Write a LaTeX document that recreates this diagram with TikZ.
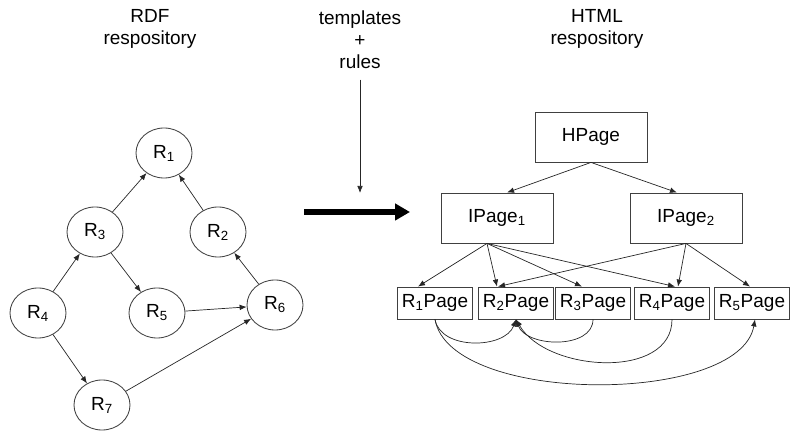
\documentclass[tikz,border=0pt]{standalone}
\usepackage{fontspec}
\setmainfont{Liberation Sans}
\usetikzlibrary{shapes.geometric}
\usetikzlibrary{arrows.meta}

\begin{document}
\begin{tikzpicture}[x=0.025cm,y=0.025cm,font=\fontsize{13.5}{15.5}\selectfont,
  res/.style={ellipse,draw=black!75,line width=0.6pt,minimum width=1.4cm,minimum height=1.25cm,inner sep=0pt},
  page/.style={rectangle,draw=black!75,line width=0.6pt,minimum width=1.875cm,minimum height=0.8cm,inner sep=1pt},
  bigpage/.style={rectangle,draw=black!75,line width=0.6pt,minimum width=2.8cm,minimum height=1.25cm},
  link/.style={-{Latex[length=5pt,width=4pt]},line width=0.5pt,black!85}]
\useasboundingbox (0,0) rectangle (790,-432);

% RDF repository
\node[align=center] (rdf) at (150,-29) {RDF\\respository};
\node[res] (R1) at (164,-153) {R\textsubscript{1}};
\node[res] (R2) at (218,-232) {R\textsubscript{2}};
\node[res] (R3) at (95,-232) {R\textsubscript{3}};
\node[res] (R4) at (38,-313) {R\textsubscript{4}};
\node[res] (R5) at (157,-313) {R\textsubscript{5}};
\node[res] (R6) at (275,-305) {R\textsubscript{6}};
\node[res] (R7) at (102,-405) {R\textsubscript{7}};
\draw[link] (R3) -- (R1);
\draw[link] (R2) -- (R1);
\draw[link] (R4) -- (R3);
\draw[link] (R3) -- (R5);
\draw[link] (R6) -- (R2);
\draw[link] (R5) -- (R6);
\draw[link] (R4) -- (R7);
\draw[link] (R7) -- (R6);

% transformation
\node[align=center] (rules) at (360,-40) {templates\\+\\rules};
\coordinate (apply) at (360,-193);
\draw[link] (rules.south) ++(0,-6) -- (apply);
\coordinate (gen0) at (304,-212);
\coordinate (gen1) at (410,-212);
\draw[line width=3.6pt,-{Triangle[length=0.37cm,width=0.4cm]}] (gen0) -- (gen1);

% HTML repository
\node[align=center] (html) at (597,-29) {HTML\\respository};
\node[bigpage] (HPage) at (591,-137) {HPage};
\node[bigpage] (IPage1) at (497,-218) {IPage\textsubscript{1}};
\node[bigpage] (IPage2) at (686,-218) {IPage\textsubscript{2}};
\node[page] (R1Page) at (435,-303) {R\textsubscript{1}Page};
\node[page] (R2Page) at (516,-303) {R\textsubscript{2}Page};
\node[page] (R3Page) at (593,-303) {R\textsubscript{3}Page};
\node[page] (R4Page) at (672,-303) {R\textsubscript{4}Page};
\node[page] (R5Page) at (752,-303) {R\textsubscript{5}Page};

\draw[link] (HPage.south) -- ([xshift=0.25cm]IPage1.north);
\draw[link] (HPage.south) -- ([xshift=-0.225cm]IPage2.north);

\draw[link] ([xshift=-0.25cm]IPage1.south) -- ([xshift=-0.425cm]R1Page.north);
\draw[link] ([xshift=-0.25cm]IPage1.south) -- ([xshift=-0.475cm]R2Page.north);
\draw[link] ([xshift=-0.25cm]IPage1.south) -- ([xshift=-0.275cm]R3Page.north);
\draw[link] ([xshift=-0.25cm]IPage1.south) -- ([xshift=0.075cm]R4Page.north);
\draw[link] (IPage2.south) -- ([xshift=-0.45cm]R2Page.north);
\draw[link] (IPage2.south) -- ([xshift=0.15cm]R4Page.north);
\draw[link] (IPage2.south) -- ([xshift=-0.05cm]R5Page.north);

\draw[link] (R1Page.south) to[out=-80,in=-110] (R2Page.south);
\draw[link] (R3Page.south) to[out=-90,in=-70] (R2Page.south);
\draw[link] (R4Page.south) to[out=-90,in=-60] (R2Page.south);
\draw[link] (R1Page.south) to[out=-80,in=-100,looseness=0.7] ([xshift=0.075cm]R5Page.south);

\end{tikzpicture}
\end{document}
